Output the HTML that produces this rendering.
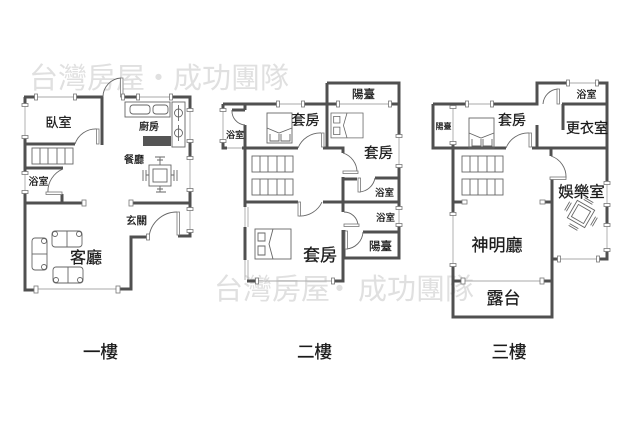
<!DOCTYPE html>
<html><head><meta charset="utf-8"><style>
html,body{margin:0;padding:0;background:#fff}
svg{display:block}
text{font-family:"Liberation Sans","Noto Sans CJK TC",sans-serif;fill:#1a1a1a;text-anchor:middle;stroke:#1a1a1a;stroke-width:.25}
.wm{fill:#e0e0e0;stroke:none;font-size:29px;text-anchor:start}
.w{fill:none;stroke:#505050;stroke-width:3}
.t{fill:none;stroke:#aaa;stroke-width:.9}
.p{fill:#fff;stroke:#777;stroke-width:.8}
.f{fill:none;stroke:#666;stroke-width:.9}
</style></head><body>
<svg width="640" height="426" viewBox="0 0 640 426" xmlns="http://www.w3.org/2000/svg">
<defs>
<g id="st"><rect class="f" x="0" y="0" width="41" height="16"/><path class="f" d="M8 0V16M16 0V16M25 0V16M33 0V16"/></g>
<g id="bed"><rect class="f" x="0" y="0" width="25" height="30"/><path class="f" d="M0 15L12 20L25 15M3 21V28H12V21M14 21V28H23V21"/></g>
<g id="bedh"><rect class="f" x="0" y="0" width="36" height="30"/><path class="f" d="M18 0L14 15L18 30M3 4H10V12H3ZM3 17H10V26H3Z"/></g>
<rect id="ch" class="p" x="-1.500" y="-3" width="3" height="6"/>
<rect id="cv" class="p" x="-3" y="-1.500" width="6" height="3"/>
</defs>
<rect width="640" height="426" fill="#fff"/>
<text class="wm" x="29" y="88">台灣房屋</text><text class="wm" x="144" y="88">・</text><text class="wm" x="173" y="88">成功團隊</text>
<text class="wm" x="214" y="299">台灣房屋</text><text class="wm" x="325" y="299">・</text><text class="wm" x="358" y="299">成功團隊</text>

<!-- floor 1 -->
<path class="t" d="M25 105V137M25 173V192M37 97H75M123 97H171M190 110V141M190 158V190M190 209V231M37 289H118"/>
<path class="w" d="M24 97H36M75 97H102V145M25 97V105M25 137V173M25 192V290H35M25 144H75M25 168H63M25 203H82M131 203H190M62 194V204M118 289H131V237H148M178 236H190V231M123 97H138M171 97H190V110M190 141V158M190 190V209"/>
<path class="f" d="M75 144A22 22 0 0 1 97 129M63 169A24 24 0 0 0 48 193M103 97A19 19 0 0 1 121 78M149 237A28 28 0 0 1 177 212"/>
<rect class="p" x="96.500" y="129" width="2.500" height="15"/><rect class="p" x="120.500" y="78" width="2.500" height="19"/><rect class="p" x="46" y="192" width="16" height="2.500"/><rect class="p" x="177" y="212" width="2.500" height="23"/>
<use href="#st" x="32" y="148"/>
<rect class="p" x="82" y="200" width="4" height="6"/><rect class="p" x="129" y="200" width="4" height="6"/><rect class="p" x="34" y="286" width="4" height="7"/><rect class="p" x="116" y="286" width="4" height="7"/>
<rect class="f" x="125" y="102" width="45" height="15"/><rect class="f" x="130" y="105" width="20" height="9" rx="3"/><rect class="f" x="153" y="105" width="15" height="9" rx="3"/>
<rect class="f" x="172" y="102" width="13" height="45"/><circle class="f" cx="178.500" cy="113" r="4"/><circle class="f" cx="178.500" cy="133" r="4"/><path class="f" d="M178.500 105V121M178.500 125V141"/>
<rect x="143" y="136" width="28" height="10" fill="#555"/>
<rect class="f" x="149" y="165" width="22" height="21"/><rect class="f" x="153" y="169" width="14" height="13"/><path class="f" d="M155 157H165M160 157V165M157 160H163M156 192H166M160 186V192M157 189H163M143 170V181M146 170V181M174 170V181M177 170V181M146 175H149M171 175H174"/>
<rect class="f" x="52" y="231" width="30" height="16" rx="3"/><path class="f" d="M67 231V247"/><circle class="f" cx="55" cy="234" r="2.500"/><circle class="f" cx="79" cy="234" r="2.500"/>
<rect class="f" x="53" y="267" width="30" height="16" rx="3"/><path class="f" d="M68 267V283"/><circle class="f" cx="56" cy="280" r="2.500"/><circle class="f" cx="80" cy="280" r="2.500"/>
<rect class="f" x="32" y="238" width="15" height="32" rx="3"/><path class="f" d="M32 254H47"/><circle class="f" cx="44" cy="241" r="2.500"/><circle class="f" cx="44" cy="267" r="2.500"/>
<use href="#ch" x="36" y="97"/><use href="#ch" x="75" y="97"/><use href="#ch" x="123" y="97"/><use href="#ch" x="138" y="97"/><use href="#ch" x="171" y="97"/><use href="#ch" x="148" y="237"/>
<use href="#cv" x="25" y="105"/><use href="#cv" x="25" y="137"/><use href="#cv" x="25" y="173"/><use href="#cv" x="25" y="192"/><use href="#cv" x="190" y="110"/><use href="#cv" x="190" y="141"/><use href="#cv" x="190" y="158"/><use href="#cv" x="190" y="190"/><use href="#cv" x="190" y="209"/><use href="#cv" x="190" y="231"/>
<text x="58.500" y="127" font-size="13">臥室</text><text x="149" y="130" font-size="10">廚房</text><text x="134" y="163" font-size="10">餐廳</text><text x="38.500" y="185" font-size="10">浴室</text><text x="136.500" y="224" font-size="10.500">玄關</text><text x="86" y="263" font-size="16">客廳</text>
<text x="100.500" y="358" font-size="17.500">一樓</text>

<!-- floor 2 -->
<path class="t" d="M278 104H303M338 104H390M223 110V141M227 148H242M399 136V166M399 208V225M257 281H333M245 207V227M248 207V227M245 260V280M248 260V280"/>
<path class="w" d="M223 104H278M303 104H338M390 104H399M327 83H399V136M327 83V148M399 166V207M399 225V258H344V230M223 104V110M223 141V148H227M242 148H298M232 110H245M245 104V110M245 125V207M245 227V260M245 202H298M323 202H399M323 148H343V153M343 177V212M343 179H357M375 178H399M363 232H399M247 281H257M333 281H343V230"/>
<path class="f" d="M298 148A24 24 0 0 1 321 133M343 153A20 20 0 0 1 357 172M359 192A17 17 0 0 0 375 178M299 216A24 24 0 0 0 322 202M344 212A14 14 0 0 1 358 225M346 249A18 18 0 0 0 363 232M232 110A14 14 0 0 0 245 125"/>
<rect class="p" x="321.500" y="133" width="2.500" height="14"/><rect class="p" x="343" y="171" width="15" height="2.500"/><rect class="p" x="358" y="178" width="2.500" height="14"/><rect class="p" x="298" y="202" width="2.500" height="14"/><rect class="p" x="344" y="224" width="15" height="2.500"/><rect class="p" x="345" y="231" width="2.500" height="18"/>
<use href="#st" x="252" y="156"/><use href="#st" x="252" y="179"/>
<use href="#bed" x="267" y="113"/><use href="#bedh" transform="translate(331 113) scale(.89 .83)"/><use href="#bedh" x="255" y="229"/>
<use href="#ch" x="278" y="104"/><use href="#ch" x="303" y="104"/><use href="#ch" x="338" y="104"/><use href="#ch" x="390" y="104"/><use href="#ch" x="257" y="281"/><use href="#ch" x="333" y="281"/>
<use href="#cv" x="223" y="110"/><use href="#cv" x="223" y="141"/><use href="#cv" x="399" y="136"/><use href="#cv" x="399" y="166"/><use href="#cv" x="399" y="208"/><use href="#cv" x="399" y="225"/>
<text x="363.500" y="98" font-size="11.500">陽臺</text><text x="305.500" y="125" font-size="14">套房</text><text x="378.500" y="158" font-size="14.500">套房</text><text x="235" y="138" font-size="9">浴室</text><text x="384.500" y="196" font-size="9.500">浴室</text><text x="385.500" y="221" font-size="9.500">浴室</text><text x="380.500" y="250" font-size="11.500">陽臺</text><text x="320" y="261" font-size="17">套房</text>
<text x="314.500" y="358" font-size="17.500">二樓</text>

<!-- floor 3 -->
<path class="t" d="M467 104H492M568 83H597M453 107V143M453 214V265M465 281H541M559 259H598M607 183V205M607 225V250"/>
<path class="w" d="M433 104H467M492 104H537V83H567M597 83H607V181M607 205V225M607 250V259H598M558 259H552M562 104H607M563 104V130M433 104V148H506M532 148H607M537 125V148M453 145V212M453 266V317H552V179M453 281H463M541 281H552M453 202H462M545 202H552M551 149V156"/>
<path class="f" d="M543 104A16 16 0 0 1 558 89M506 148A24 24 0 0 1 529 133M551 156A22 22 0 0 1 566 178"/>
<rect class="p" x="557" y="89" width="2.500" height="15"/><rect class="p" x="529" y="133" width="2.500" height="14"/><rect class="p" x="550" y="177" width="16" height="2.500"/>
<use href="#st" x="462" y="156"/><use href="#st" x="462" y="179"/>
<use href="#bed" x="469" y="118"/>
<g transform="translate(581 214) rotate(30)"><rect class="f" x="-10" y="-10" width="20" height="20"/><rect class="f" x="-7" y="-7" width="14" height="14"/><path class="f" d="M-5 -14H5M-5 14H5M-14 -5V5M14 -5V5M-5 -16H5M-5 16H5M-16 -5V5M16 -5V5"/></g>
<rect class="p" x="462" y="200" width="5" height="4"/><rect class="p" x="540" y="200" width="5" height="4"/><rect class="p" x="461" y="278" width="4" height="6"/><rect class="p" x="540" y="278" width="4" height="6"/>
<use href="#ch" x="467" y="104"/><use href="#ch" x="492" y="104"/><use href="#ch" x="568" y="83"/><use href="#ch" x="597" y="83"/><use href="#ch" x="559" y="259"/><use href="#ch" x="598" y="259"/>
<use href="#cv" x="453" y="107"/><use href="#cv" x="453" y="143"/><use href="#cv" x="453" y="214"/><use href="#cv" x="453" y="265"/><use href="#cv" x="607" y="183"/><use href="#cv" x="607" y="205"/><use href="#cv" x="607" y="225"/><use href="#cv" x="607" y="250"/>
<text x="443.500" y="129" font-size="8">陽臺</text><text x="512" y="125" font-size="14">套房</text><text x="586.500" y="98" font-size="10">浴室</text><text x="587" y="133" font-size="14">更衣室</text><text x="581.500" y="197" font-size="15.500">娛樂室</text><text x="497" y="251" font-size="17">神明廳</text><text x="503.500" y="304" font-size="17">露台</text>
<text x="509" y="358" font-size="17.500">三樓</text>
</svg>
</body></html>
